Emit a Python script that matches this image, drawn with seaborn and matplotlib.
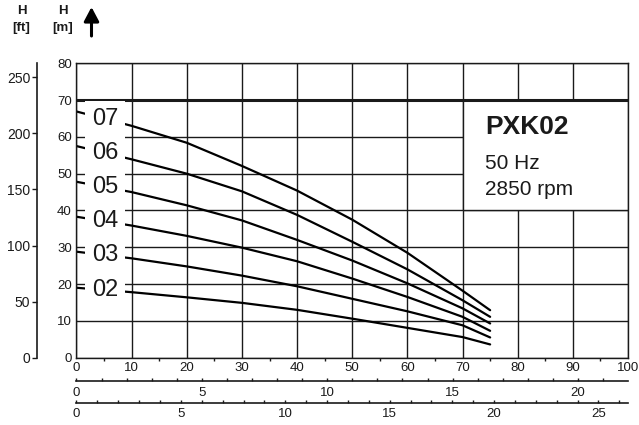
import numpy as np
import pandas as pd
import matplotlib
matplotlib.use("Agg")
import matplotlib.pyplot as plt
from matplotlib.patches import Rectangle
from matplotlib.ticker import MultipleLocator
import seaborn as sns

# Flow rate [l/min] and delivery head [m] for each stage count
flow_lmin = [0, 10, 20, 30, 40, 50, 60, 70, 75]
head_02 = [19.0, 17.8, 16.4, 14.9, 13.0, 10.6, 8.1, 5.6, 3.6]
head_03 = [28.8, 27.0, 24.8, 22.3, 19.4, 16.0, 12.6, 8.8, 5.5]
head_04 = [38.3, 35.9, 33.1, 29.9, 26.2, 21.5, 16.5, 11.1, 7.3]
head_05 = [47.8, 45.0, 41.4, 37.3, 32.0, 26.4, 20.2, 13.4, 9.3]
head_06 = [57.5, 53.9, 50.0, 45.2, 38.8, 31.5, 24.0, 15.6, 11.1]
head_07 = [66.9, 63.0, 58.4, 52.1, 45.4, 37.5, 28.5, 18.2, 12.9]
stages = ["02", "03", "04", "05", "06", "07"]
heads = [head_02, head_03, head_04, head_05, head_06, head_07]

model_name = "PXK02"
frequency_text = "50 Hz"
speed_text = "2850 rpm"

x_ticks_lmin = list(range(0, 101, 10))
y_ticks_m = list(range(0, 81, 10))
y_ticks_ft = [0, 50, 100, 150, 200, 250]
x_ticks_imp = [0, 5, 10, 15, 20]
x_ticks_us = [0, 5, 10, 15, 20, 25]

LMIN_PER_IMP_GPM = 4.54609
LMIN_PER_US_GPM = 3.78541
FT_PER_M = 3.28084

sns.set_theme(style="white")
plt.rcParams["font.family"] = ["Liberation Sans", "DejaVu Sans"]

df = pd.DataFrame({
    "Q": np.tile(flow_lmin, len(stages)),
    "H": np.concatenate(heads),
    "stage": np.repeat(stages, len(flow_lmin)),
})

ink = "#1a1a1a"
fig = plt.figure(figsize=(6.39, 4.25), dpi=100)
ax = fig.add_axes([0.1197, 0.1584, 0.8631, 0.6927])
ax.set_xlim(0, 100)
ax.set_ylim(0, 80)
ax.set_xticks(x_ticks_lmin)
ax.set_xticks(range(5, 100, 10), minor=True)
ax.set_yticks(y_ticks_m)
ax.set_axisbelow(True)
ax.grid(True, which="major", color=ink, lw=1.0)
for sp in ax.spines.values():
    sp.set_color(ink)
    sp.set_linewidth(1.0)
ax.tick_params(axis="x", which="major", length=0, pad=3.0, labelsize=9.5, labelcolor=ink)
ax.tick_params(axis="x", which="minor", length=2.5, width=1.0, direction="out", color=ink, bottom=True)
ax.tick_params(axis="y", which="major", length=0, pad=3.3, labelsize=9.5, labelcolor=ink)

# Bold 70 m reference line and the white caption panel
ax.axhline(70, color=ink, lw=2.2, zorder=1.2)
ax.add_patch(Rectangle((70, 40), 30, 30, facecolor="white", edgecolor=ink, lw=1.0, zorder=1.1))

sns.lineplot(data=df, x="Q", y="H", hue="stage", palette=["black"] * len(stages),
             lw=1.6, legend=False, ax=ax, zorder=2)
ax.set_xlabel("")
ax.set_ylabel("")

# Stage labels sit on their curves, masking grid and curve behind them
for name, h in zip(stages, heads):
    ax.text(5.2, np.interp(5.2, flow_lmin, h), name, fontsize=17, ha="center", va="center",
            color=ink, zorder=3,
            bbox=dict(boxstyle="square,pad=0.28", facecolor="white", edgecolor="none"))

ax.text(74.1, 60.8, model_name, fontsize=19, fontweight="bold", color=ink, zorder=3, va="baseline")
ax.text(74.1, 51.3, frequency_text, fontsize=15, color=ink, zorder=3, va="baseline")
ax.text(74.1, 44.2, speed_text, fontsize=15, color=ink, zorder=3, va="baseline")

# Head in feet
sec_ft = ax.secondary_yaxis(-0.0716, functions=(lambda m: m * FT_PER_M, lambda f: f / FT_PER_M))
sec_ft.set_yticks(y_ticks_ft)
sec_ft.tick_params(length=3.6, width=1.0, pad=1.2, labelsize=10, direction="out", color=ink, labelcolor=ink)
sec_ft.spines["left"].set_linewidth(1.2)
sec_ft.spines["left"].set_color(ink)

# Flow in imperial and US gallons per minute
sec_imp = ax.secondary_xaxis(-0.0791, functions=(lambda q: q / LMIN_PER_IMP_GPM,
                                                 lambda g: g * LMIN_PER_IMP_GPM))
sec_us = ax.secondary_xaxis(-0.155, functions=(lambda q: q / LMIN_PER_US_GPM,
                                               lambda g: g * LMIN_PER_US_GPM))
for sec, ticks, pad in ((sec_imp, x_ticks_imp, 4.0), (sec_us, x_ticks_us, 3.4)):
    sec.set_xticks(ticks)
    sec.xaxis.set_minor_locator(MultipleLocator(1))
    sec.tick_params(which="both", direction="in", length=2.2, width=1.0, color=ink)
    sec.tick_params(which="major", labelsize=9.5, pad=pad, labelcolor=ink)
    sec.spines["bottom"].set_linewidth(1.2)
    sec.spines["bottom"].set_color(ink)

# Axis unit headings and upward arrow
for xpix, unit in ((21.5, "[ft]"), (63, "[m]")):
    fig.text(xpix / 639, 1 - 11.5 / 425, "H", fontsize=9.5, fontweight="bold", ha="center", va="center", color=ink)
    fig.text(xpix / 639, 1 - 28 / 425, unit, fontsize=9.5, fontweight="bold", ha="center", va="center", color=ink)
ax.annotate("", xy=(91.5, 425 - 7), xytext=(91.5, 425 - 36),
            xycoords="figure pixels", textcoords="figure pixels", annotation_clip=False,
            arrowprops=dict(arrowstyle="-|>,head_length=0.85,head_width=0.45", lw=2.2,
                            color="black", shrinkA=0, shrinkB=0, mutation_scale=10))

fig.savefig("out.png", dpi=100)
